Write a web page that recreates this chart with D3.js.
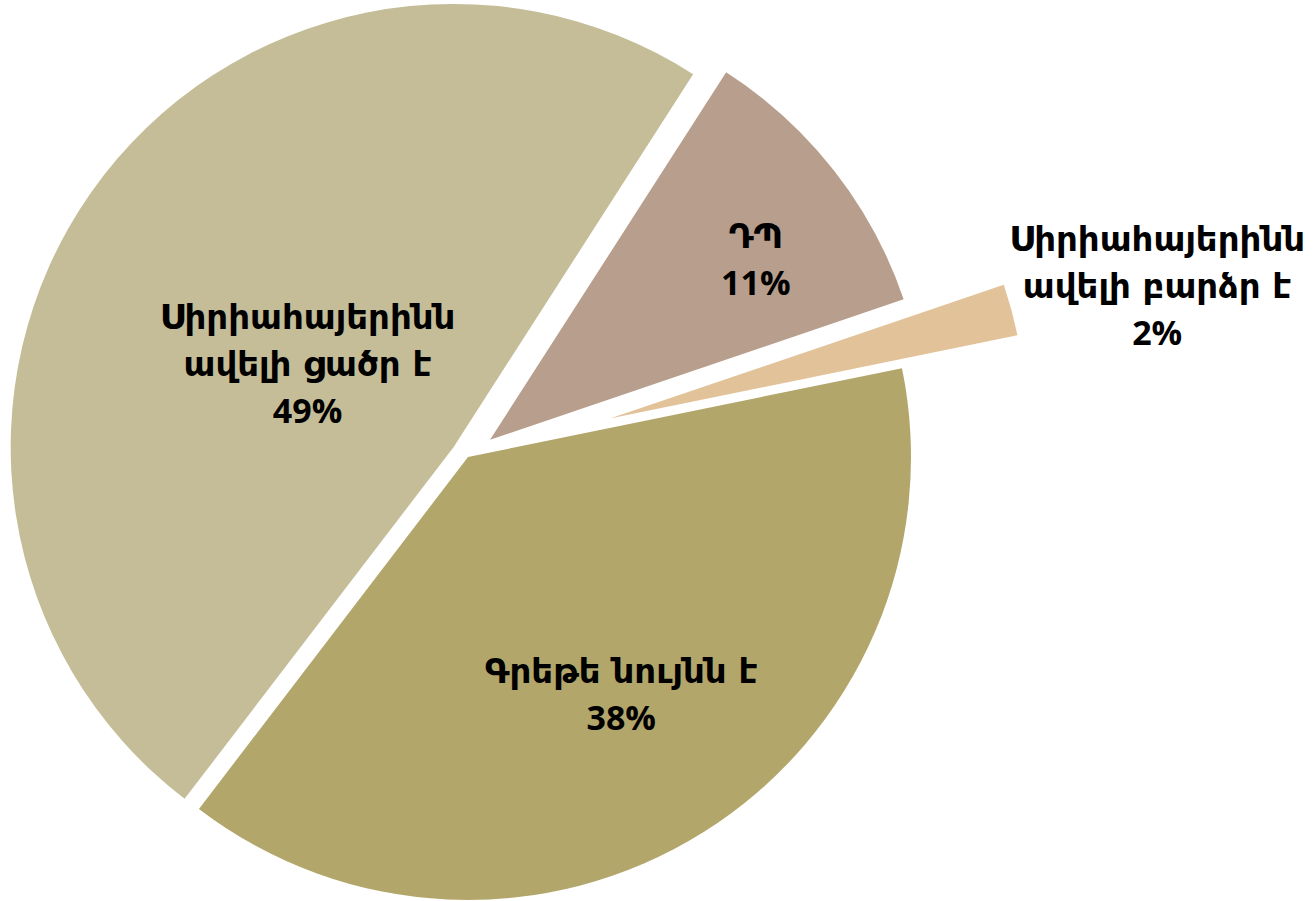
<!DOCTYPE html>
<html><head><meta charset="utf-8">
<script src="https://cdn.jsdelivr.net/npm/d3@7"></script>
<style>
html,body{margin:0;padding:0;background:#fff;}
svg{display:block;}
text{font-family:"DejaVu Sans",sans-serif;font-weight:bold;fill:#000;}
tspan.pct{font-family:"Open Sans","DejaVu Sans",sans-serif;}
</style></head>
<body>
<svg id="chart" width="1316" height="901"></svg>
<script>
// ---- data ----
const categories = [
  ["Սիրիահայերինն", "ավելի ցածր է"],
  ["ԴՊ"],
  ["Սիրիահայերինն", "ավելի բարձր է"],
  ["Գրեթե նույնն է"]
];
const values = [48.7, 10.7, 2.0, 38.6];
const percentLabels = ["49%", "11%", "2%", "38%"];
const colors = ["#c4bd98", "#b89e8c", "#e2c298", "#b3a66b"];

// ---- layout ----
const W = 1316, H = 901;
const cx = 468, cy = 457, R = 443;
const radiusScale = [1, 0.986, 0.939, 1];     // relative outer radius
const explode = [17.5, 28, 147, 0];           // px offset along bisector
const labelRadius = [168, 321, 563, 283];     // from slice vertex
const labelAngleShift = [-5.5, 3.9, 1.6, -0.7]; // degrees
const fontSize = 34, lineH = 47;

const deg = Math.PI / 180;
const svg = d3.select("#chart");
const g = svg.append("g").attr("transform", `translate(${cx},${cy})`);

const pie = d3.pie().sort(null).value(d => d)
  .startAngle(-142.6 * deg).endAngle(217.4 * deg);
const arcs = pie(values);
const arc = d3.arc().innerRadius(0).outerRadius((d, i) => R * radiusScale[d.index]);

const slices = g.selectAll("g.slice").data(arcs).join("g")
  .attr("class", "slice")
  .attr("transform", (d, i) => {
    const m = (d.startAngle + d.endAngle) / 2;
    return `translate(${explode[i] * Math.sin(m)},${-explode[i] * Math.cos(m)})`;
  });

slices.append("path").attr("d", arc).attr("fill", (d, i) => colors[i]);

slices.append("text")
  .attr("text-anchor", "middle")
  .attr("font-size", fontSize)
  .attr("transform", (d, i) => {
    const m = (d.startAngle + d.endAngle) / 2 + labelAngleShift[i] * deg;
    return `translate(${labelRadius[i] * Math.sin(m)},${-labelRadius[i] * Math.cos(m)})`;
  })
  .each(function(d, i) {
    const lines = categories[i].concat([percentLabels[i]]);
    const n = lines.length;
    d3.select(this).selectAll("tspan").data(lines).join("tspan")
      .attr("class", (t, j) => j === n - 1 ? "pct" : null)
      .attr("x", 0)
      .attr("y", (t, j) => (j - (n - 1) / 2) * lineH)
      .attr("dy", "0.35em")
      .text(t => t);
  });
</script>
</body></html>
